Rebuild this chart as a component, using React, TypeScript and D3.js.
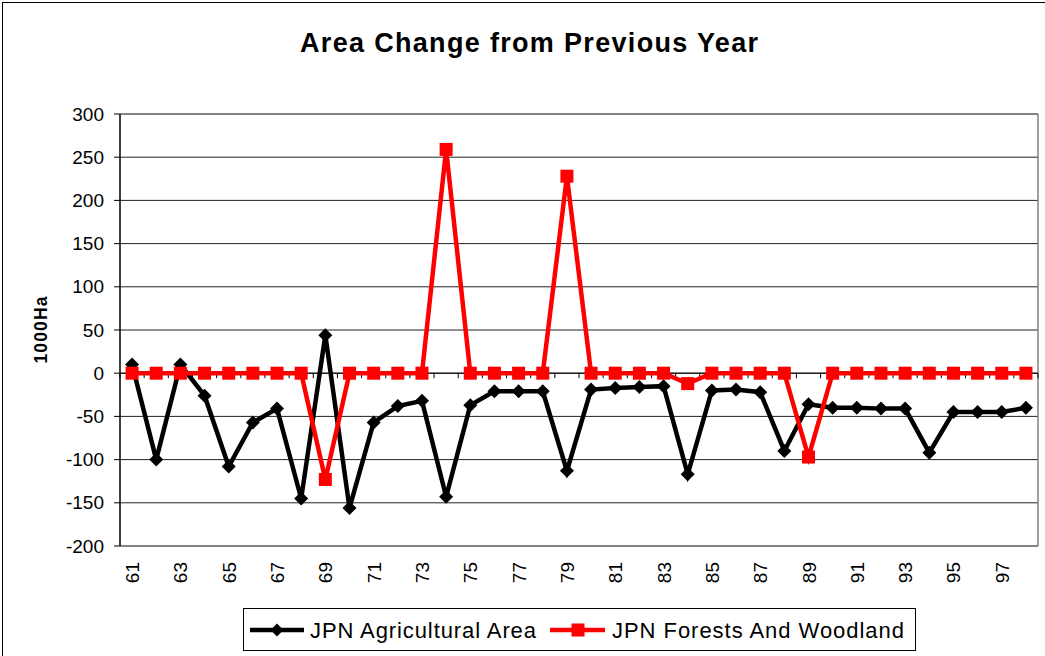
import React from "react";
import * as d3 from "d3";

const years = [
  "61","62","63","64","65","66","67","68","69","70",
  "71","72","73","74","75","76","77","78","79","80",
  "81","82","83","84","85","86","87","88","89","90",
  "91","92","93","94","95","96","97","98",
];
const agricultural = [
  10, -100, 10, -26, -108, -57, -41, -145, 44, -156,
  -57, -38, -32, -143, -37, -21, -21, -21, -113, -19,
  -17, -16, -15, -117, -20, -19, -22, -90, -36, -40,
  -40, -41, -41, -92, -45, -45, -45, -40,
];
const forests = [
  0, 0, 0, 0, 0, 0, 0, 0, -123, 0,
  0, 0, 0, 259, 0, 0, 0, 0, 228, 0,
  0, 0, 0, -12, 0, 0, 0, 0, -97, 0,
  0, 0, 0, 0, 0, 0, 0, 0,
];
const yTicks = [300, 250, 200, 150, 100, 50, 0, -50, -100, -150, -200];
const seriesNames = ["JPN  Agricultural Area", "JPN  Forests And Woodland"];
const titleText = "Area Change from Previous Year";
const yAxisTitle = "1000Ha";

const W = 1045;
const H = 656;
const left = 120;
const right = 1038;
const top = 114;
const bottom = 546;
const font = "'Liberation Sans', Arial, sans-serif";

export default function App() {
  const x = d3.scaleBand<string>().domain(years).range([left, right]).padding(0);
  const y = d3.scaleLinear().domain([-200, 300]).range([bottom, top]);
  const cx = (i: number) => (x(years[i]) as number) + x.bandwidth() / 2;
  const line = d3
    .line<number>()
    .x((_, i) => cx(i))
    .y((d) => y(d));
  const y0 = y(0);
  const boundaries = years.map((yr) => x(yr) as number).concat([right]);
  const diamond = (px: number, py: number, r: number) =>
    `M${px},${py - r}L${px + r},${py}L${px},${py + r}L${px - r},${py}Z`;

  return (
    <svg
      width={W}
      height={H}
      style={{ position: "absolute", left: 0, top: 0, background: "#fff" }}
      fontFamily={font}
    >
      <rect x={0} y={0} width={W} height={H} fill="#fff" />
      <rect x={2.5} y={2.5} width={W + 20} height={H + 20} fill="none" stroke="#000" strokeWidth={1} />
      <text
        x={529}
        y={52}
        textAnchor="middle"
        fontSize={27}
        fontWeight="bold"
        textLength={458}
        lengthAdjust="spacing"
      >
        {titleText}
      </text>

      {yTicks.map((t) => (
        <line key={"g" + t} x1={left} x2={right} y1={y(t)} y2={y(t)} stroke="#222" strokeWidth={1} />
      ))}
      <line x1={left} x2={right} y1={top} y2={top} stroke="#808080" strokeWidth={1.5} />
      <line x1={right} x2={right} y1={top} y2={bottom} stroke="#808080" strokeWidth={1.5} />
      <line x1={left} x2={right} y1={bottom} y2={bottom} stroke="#808080" strokeWidth={1.5} />
      <line x1={left} x2={left} y1={top} y2={bottom} stroke="#000" strokeWidth={1.5} />
      {yTicks.map((t) => (
        <g key={"t" + t}>
          <line x1={left - 6} x2={left} y1={y(t)} y2={y(t)} stroke="#000" strokeWidth={1} />
          <text x={104} y={y(t)} dy="0.35em" textAnchor="end" fontSize={19}>
            {t}
          </text>
        </g>
      ))}
      <text
        transform={`translate(47,${(top + bottom) / 2}) rotate(-90)`}
        textAnchor="middle"
        fontSize={17.5}
        fontWeight="bold"
        textLength={67}
        lengthAdjust="spacing"
      >
        {yAxisTitle}
      </text>

      <line x1={left} x2={right} y1={y0} y2={y0} stroke="#000" strokeWidth={1} />
      {boundaries.map((b, i) => (
        <line key={"b" + i} x1={b} x2={b} y1={y0} y2={y0 + 5} stroke="#000" strokeWidth={1} />
      ))}
      {years.map((yr, i) =>
        i % 2 === 0 ? (
          <text
            key={"x" + yr}
            transform={`translate(${cx(i) + 7},562) rotate(-90)`}
            textAnchor="end"
            fontSize={19}
          >
            {yr}
          </text>
        ) : null
      )}

      <path d={line(agricultural) || ""} fill="none" stroke="#000" strokeWidth={4.5} strokeLinejoin="miter" />
      {agricultural.map((v, i) => (
        <path key={"d" + i} d={diamond(cx(i), y(v), 7)} fill="#000" />
      ))}
      <path d={line(forests) || ""} fill="none" stroke="#ff0000" strokeWidth={4.5} strokeLinejoin="miter" />
      {forests.map((v, i) => (
        <rect key={"s" + i} x={cx(i) - 6.5} y={y(v) - 6.5} width={13} height={13} fill="#ff0000" />
      ))}

      <rect x={243.5} y={608.5} width={672} height={42} fill="#fff" stroke="#000" strokeWidth={1} />
      <line x1={250} x2={304} y1={630} y2={630} stroke="#000" strokeWidth={4.5} />
      <path d={diamond(277, 630, 6.5)} fill="#000" />
      <text x={310} y={630} dy="0.36em" fontSize={22} textLength={226} lengthAdjust="spacing">
        {seriesNames[0]}
      </text>
      <line x1={550} x2={605} y1={630} y2={630} stroke="#ff0000" strokeWidth={4.5} />
      <rect x={571.5} y={623.5} width={13} height={13} fill="#ff0000" />
      <text x={612} y={630} dy="0.36em" fontSize={22} textLength={292} lengthAdjust="spacing">
        {seriesNames[1]}
      </text>
    </svg>
  );
}
